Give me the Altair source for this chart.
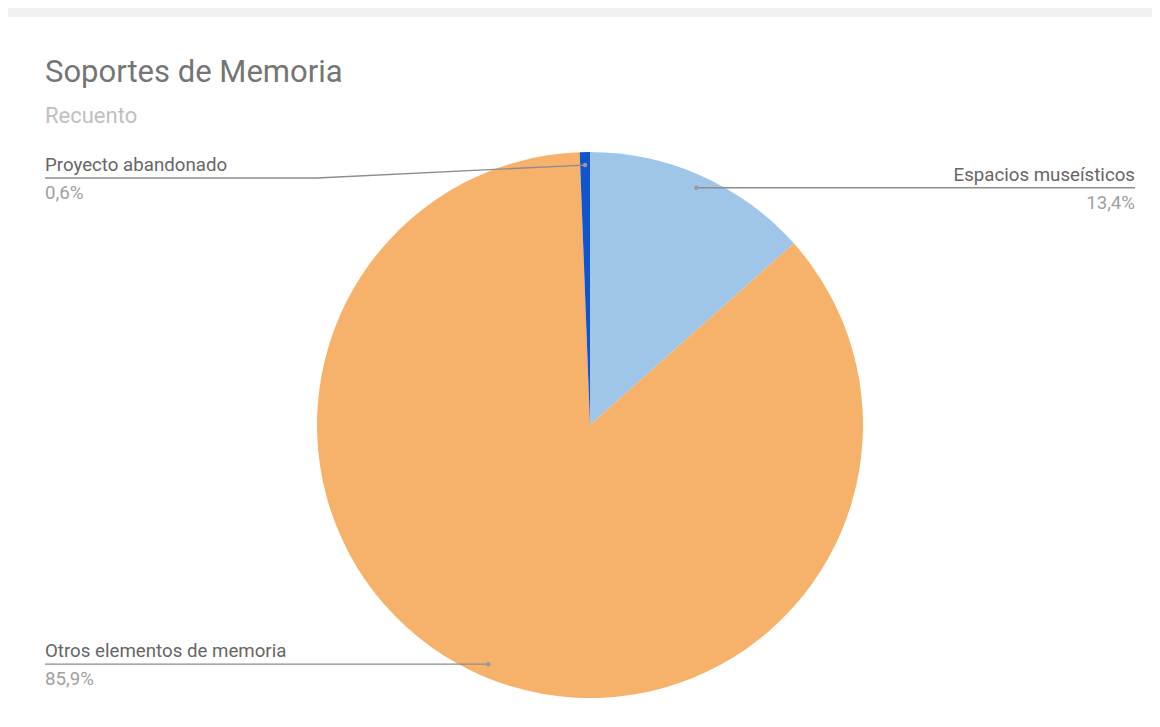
import altair as alt
import pandas as pd

# ---- data ----
TITLE = "Soportes de Memoria"
SUBTITLE = "Recuento"
categories = ["Espacios museísticos", "Otros elementos de memoria", "Proyecto abandonado"]
percents = [13.4, 85.9, 0.6]
pct_labels = ["13,4%", "85,9%", "0,6%"]
slice_order = [1, 2, 3]
colors = ["#9fc5e8", "#f6b26b", "#1155cc"]

df = pd.DataFrame({"category": categories, "value": percents,
                   "pct": pct_labels, "order": slice_order})

# ---- layout constants (pixels, chart coordinates) ----
W, H = 1144, 711
CX, CY, R = 582, 417, 273
R_DOT = 260
LEFT_X, RIGHT_X = 37, 1127
MIN_LABEL_Y = 170
FONT = "Roboto"
LABEL_SIZE = 18.7

base = (
    alt.Chart(df)
    .transform_window(cum="sum(value)", sort=[alt.SortField("order")], frame=[None, 0])
    .transform_joinaggregate(total="sum(value)")
    .transform_calculate(mid="(datum.cum - datum.value / 2) / datum.total * 2 * PI")
    .transform_calculate(dot_x=f"{CX} + {R_DOT} * sin(datum.mid)")
    .transform_calculate(dot_y=f"{CY} - {R_DOT} * cos(datum.mid)")
    .transform_calculate(side="datum.mid > PI ? 'left' : 'right'")
    .transform_calculate(label_x=f"datum.side == 'left' ? {LEFT_X} : {RIGHT_X}")
    .transform_calculate(bend_x=f"datum.side == 'left' ? {CX - R} : {CX + R}")
    .transform_calculate(label_y=f"max(datum.dot_y, {MIN_LABEL_Y})")
)

band = alt.Chart(alt.Data(values=[{}])).mark_rect(color="#f1f1f1").encode(
    x=alt.value(0), x2=alt.value(W), y=alt.value(0), y2=alt.value(9)
)

arc = alt.Chart(df).mark_arc(radius=R).encode(
    theta=alt.Theta("value:Q", stack=True),
    order=alt.Order("order:Q"),
    color=alt.Color("category:N", scale=alt.Scale(domain=categories, range=colors), legend=None),
    x=alt.value(CX),
    y=alt.value(CY),
)

line_h = base.mark_rule(color="#8c8c8c", strokeWidth=1.3).encode(
    x=alt.X("label_x:Q", scale=None),
    x2="bend_x:Q",
    y=alt.Y("label_y:Q", scale=None),
)
line_d = base.mark_rule(color="#8c8c8c", strokeWidth=1.3).encode(
    x=alt.X("bend_x:Q", scale=None),
    x2="dot_x:Q",
    y=alt.Y("label_y:Q", scale=None),
    y2="dot_y:Q",
)
dots = base.mark_circle(size=20, color="#9a9a9a", opacity=1).encode(
    x=alt.X("dot_x:Q", scale=None),
    y=alt.Y("dot_y:Q", scale=None),
)

def label_layers(side, align):
    b = base.transform_filter(f"datum.side == '{side}'")
    name = b.mark_text(align=align, baseline="alphabetic", dy=-7, fontSize=LABEL_SIZE,
                       font=FONT, color="#666666").encode(
        x=alt.X("label_x:Q", scale=None), y=alt.Y("label_y:Q", scale=None), text="category:N")
    pct = b.mark_text(align=align, baseline="alphabetic", dy=21, fontSize=LABEL_SIZE,
                      font=FONT, color="#a0a0a0").encode(
        x=alt.X("label_x:Q", scale=None), y=alt.Y("label_y:Q", scale=None), text="pct:N")
    return [name, pct]

title = alt.Chart(alt.Data(values=[{"t": TITLE}])).mark_text(
    align="left", baseline="alphabetic", fontSize=31, font=FONT, color="#757575"
).encode(x=alt.value(37), y=alt.value(74), text="t:N")
subtitle = alt.Chart(alt.Data(values=[{"t": SUBTITLE}])).mark_text(
    align="left", baseline="alphabetic", fontSize=22, font=FONT, color="#c0c0c0"
).encode(x=alt.value(37), y=alt.value(115), text="t:N")

chart = alt.layer(
    band, arc, line_h, line_d, dots,
    *label_layers("left", "left"), *label_layers("right", "right"),
    title, subtitle,
).properties(
    width=W, height=H, autosize=alt.AutoSizeParams(type="none"), padding=0, background="white"
).configure_view(stroke=None)

chart.save("out.html", embed_options={"renderer": "svg", "actions": False})
